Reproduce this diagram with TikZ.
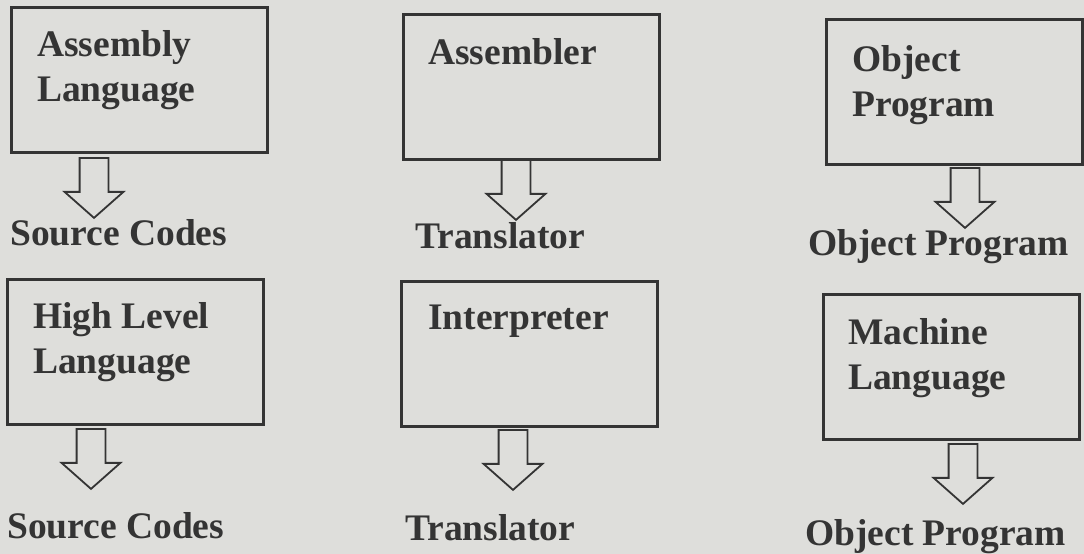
\documentclass[tikz,border=0pt]{standalone}
\usepackage{fontspec}
\setmainfont{Liberation Serif}
\usetikzlibrary{positioning,shapes.arrows}
\definecolor{Paper}{HTML}{DEDEDB}
\definecolor{Ink}{HTML}{343434}

\begin{document}
\begin{tikzpicture}[x=1pt,y=-1pt,
    langbox/.style={draw=Ink,line width=2.6pt,minimum width=256pt,
      minimum height=145pt,anchor=north west,inner sep=0pt},
    boxtext/.style={align=left,inner sep=0pt,text=Ink,
      font=\fontsize{37.5}{45}\selectfont\bfseries},
    outlabel/.style={anchor=base west,inner sep=0pt,text=Ink,
      font=\fontsize{37.5}{45}\selectfont\bfseries},
    hollowarrow/.style={single arrow,draw=Ink,line width=1.8pt,
      shape border rotate=270,minimum height=60pt,minimum width=57pt,
      single arrow head extend=15pt,single arrow tip angle=97,
      inner sep=13.5pt,anchor=tail}
  ]
    \fill[Paper] (0,0) rectangle (1084,554);
    \useasboundingbox (0,0) rectangle (1084,554);

    % top row
    \node[langbox] (asmbox) at (10,6) {};
    \node[boxtext,below right=24pt and 27pt of asmbox.north west] (asmtext) {Assembly\\Language};
    \node[hollowarrow] (asmarrow) at (94,157) {};
    \node[outlabel] (asmout) at (10,245) {Source Codes};

    \node[langbox] (abox) at (402,13) {};
    \node[boxtext,below right=25pt and 26pt of abox.north west] (atext) {Assembler};
    \node[hollowarrow] (aarrow) at (516,159) {};
    \node[outlabel] (aout) at (415,248) {Translator};

    \node[langbox] (objbox) at (825,18) {};
    \node[boxtext,below right=27pt and 27pt of objbox.north west] (objtext) {Object\\Program};
    \node[hollowarrow] (objarrow) at (965,167) {};
    \node[outlabel] (objout) at (808,255) {Object Program};

    % bottom row
    \node[langbox] (hlbox) at (6,278) {};
    \node[boxtext,below right=24pt and 27pt of hlbox.north west] (hltext) {High Level\\Language};
    \node[hollowarrow] (hlarrow) at (91,428) {};
    \node[outlabel] (hlout) at (7,538) {Source Codes};

    \node[langbox] (ibox) at (400,280) {};
    \node[boxtext,below right=25pt and 28pt of ibox.north west] (itext) {Interpreter};
    \node[hollowarrow] (iarrow) at (513,429) {};
    \node[outlabel] (iout) at (405,540) {Translator};

    \node[langbox] (mlbox) at (822,293) {};
    \node[boxtext,below right=25pt and 26pt of mlbox.north west] (mltext) {Machine\\Language};
    \node[hollowarrow] (mlarrow) at (963,443) {};
    \node[outlabel] (mlout) at (805,545) {Object Program};
  \end{tikzpicture}
\end{document}
